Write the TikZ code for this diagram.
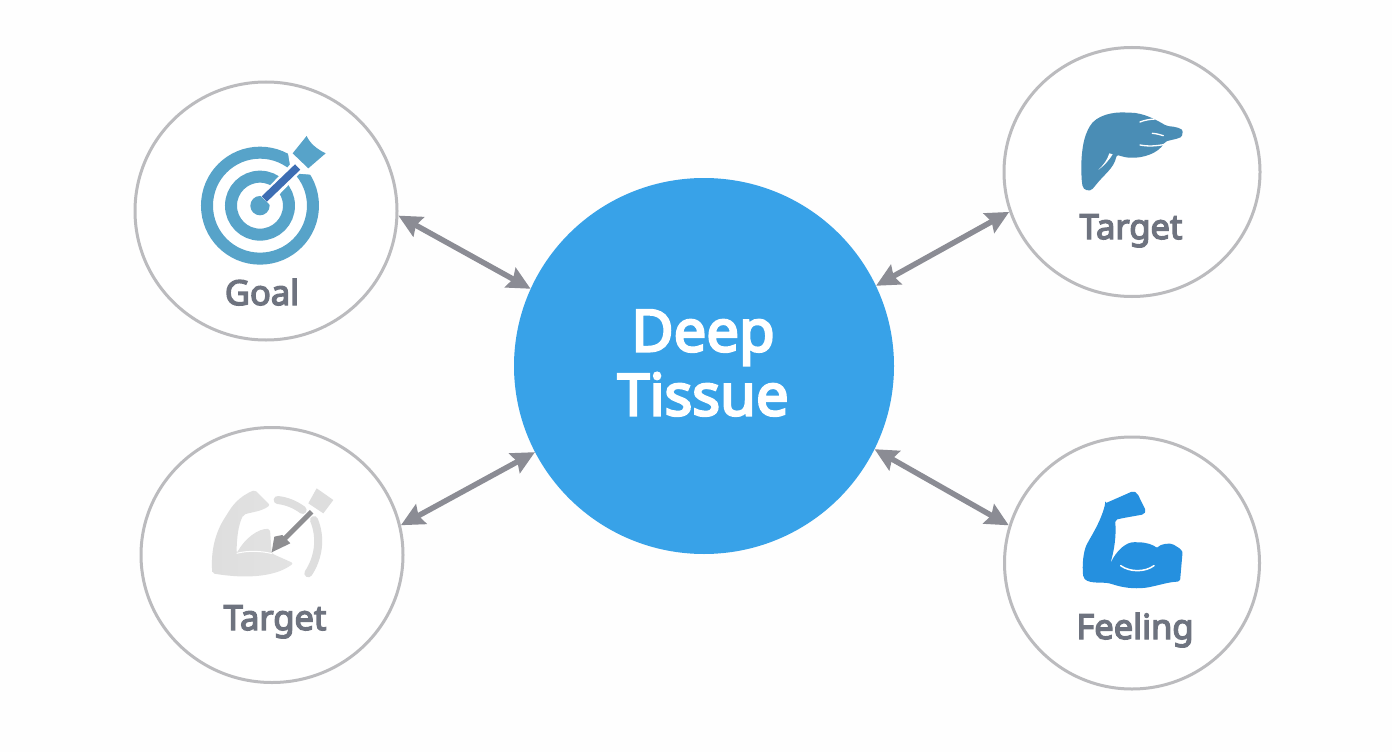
\documentclass[tikz,border=0pt]{standalone}
\usepackage{fontspec}
\setmainfont{Noto Sans}
\newfontfamily\medfont[FakeBold=4]{Noto Sans}
\usetikzlibrary{arrows.meta,shapes.geometric}
\definecolor{bgc}{HTML}{FEFEFE}
\definecolor{ringc}{HTML}{BBBBBE}
\definecolor{hubc}{HTML}{38A2E8}
\definecolor{arrc}{HTML}{8B8C94}
\definecolor{txtc}{HTML}{6E737F}
\definecolor{goalc}{HTML}{57A3C9}
\definecolor{shaftc}{HTML}{3D6DB3}
\definecolor{handc}{HTML}{4A8DB5}
\definecolor{armc}{HTML}{2590DF}
\definecolor{lgray}{HTML}{DEDEDE}
\definecolor{mgray}{HTML}{8E8E91}
\tikzset{
  satellite/.style={ellipse,draw=ringc,line width=3pt,fill=white,inner sep=0pt},
  hub/.style={ellipse,fill=hubc,inner sep=0pt,minimum width=380pt,minimum height=376pt},
  link/.style={draw=arrc,line width=5.5pt,{Stealth[length=23pt,width=22pt,inset=3pt]}-{Stealth[length=23pt,width=22pt,inset=3pt]}},
  satlabel/.style={font=\medfont\fontsize{34.5}{35}\selectfont,text=txtc,anchor=base,inner sep=0pt},
  hublabel/.style={font=\medfont\fontsize{58}{64}\selectfont,text=white,align=center,inner sep=0pt},
  icon/.style={x=0.3333pt,y=-0.3333pt}
}
\begin{document}
\begin{tikzpicture}[x=1pt,y=-1pt]
\useasboundingbox (0,0) rectangle (1392,752);
\fill[bgc] (0,0) rectangle (1392,752);
% nodes
\node[hub] (hub) at (704,366) {};
\node[satellite,minimum width=262pt,minimum height=258pt] (goal) at (266,211) {};
\node[satellite,minimum width=256pt,minimum height=249pt] (targetA) at (1132,172) {};
\node[satellite,minimum width=262pt,minimum height=255pt] (targetB) at (272,555) {};
\node[satellite,minimum width=255pt,minimum height=252pt] (feeling) at (1132,563) {};
\node[hublabel] (hubtext) at (703,363) {Deep\\Tissue};
\node[satlabel] (goaltext) at (262,305) {Goal};
\node[satlabel] (targetAtext) at (1131,239) {Target};
\node[satlabel] (targetBtext) at (275,630) {Target};
\node[satlabel] (feelingtext) at (1135,639) {Feeling};
% connectors
\draw[link] (goal.-2) -- (hub.156);
\draw[link] (targetA.198) -- (hub.25);
\draw[link] (targetB.13) -- (hub.207);
\draw[link] (feeling.163) -- (hub.-26);
% Goal icon
\begin{scope}[shift={(130,75)},icon]
  \draw[goalc,line width=12pt] (390,392) circle[radius=159];
  \draw[goalc,line width=12pt] (390,392) circle[radius=87];
  \fill[goalc] (390,392) circle[radius=29];
  \draw[white,line width=13pt] (405,375) -- (540,235);
  \fill[white] (472,222) -- (480,270) -- (508,296) -- (552,300) -- (590,240) -- (530,170) -- cycle;
  \draw[shaftc,line width=7.5pt] (403,372) -- (503,276);
  \fill[goalc] (530,183) .. controls (540,205) and (560,222) .. (587,235)
    -- (535,280) -- (488,235) -- cycle;
\end{scope}
% Hand icon
\begin{scope}[shift={(1000,45)},icon]
  \fill[handc,rounded corners=2pt] (246,415) .. controls (241,350) and (246,290) .. (266,250)
    .. controls (288,210) and (340,200) .. (385,203)
    .. controls (430,203) and (470,225) .. (500,243)
    .. controls (525,245) and (550,250) .. (547,266)
    .. controls (545,280) and (520,283) .. (495,290)
    .. controls (475,325) and (430,340) .. (385,338)
    .. controls (370,336) and (360,332) .. (350,330)
    .. controls (342,370) and (312,388) .. (282,427)
    .. controls (270,440) and (250,438) .. (246,415) -- cycle;
  \fill[white] (328,325) .. controls (322,345) and (310,360) .. (295,375) .. controls (312,362) and (328,345) .. (338,328) -- cycle;
  \draw[white,line width=1.3pt,line cap=round] (420,231) .. controls (435,225) and (450,223) .. (465,222);
  \draw[white,line width=1.3pt,line cap=round] (457,265) .. controls (470,266) and (480,269) .. (490,272);
  \draw[white,line width=1.3pt,line cap=round] (420,300) .. controls (445,305) and (470,303) .. (495,298);
\end{scope}
% Muscle with gauge icon
\begin{scope}[shift={(135,425)},icon]
  \shade[left color=black!13,middle color=black!3,right color=black!11,rounded corners=2pt]
    (232,445) .. controls (228,390) and (235,330) .. (275,270)
    .. controls (290,245) and (310,215) .. (360,195)
    -- (405,240) .. controls (380,260) and (345,262) .. (325,270)
    .. controls (310,300) and (305,340) .. (305,385)
    .. controls (330,340) and (370,310) .. (405,312)
    -- (410,385) .. controls (430,395) and (455,405) .. (475,415)
    .. controls (430,450) and (350,465) .. (232,445) -- cycle;
  \draw[white,line width=1pt] (305,385) .. controls (340,376) and (380,378) .. (412,386);
  \draw[lgray,line width=8pt,line cap=round] (428,225) .. controls (455,228) and (480,238) .. (503,255);
  \draw[lgray,line width=8pt,line cap=round] (537,285) .. controls (560,340) and (550,400) .. (520,445);
  \fill[lgray] (545,190) -- (595,225) -- (565,265) -- (520,235) -- cycle;
  \draw[mgray,line width=5pt] (530,260) -- (445,345);
  \fill[mgray] (410,382) -- (418,335) -- (442,330) -- (466,355) -- cycle;
\end{scope}
% Flexed arm icon
\begin{scope}[shift={(1000,435)},icon]
  \fill[armc,rounded corners=2pt] (316,205) -- (400,168) -- (412,175) -- (438,228) -- (432,238) -- (365,250) -- (345,255)
    .. controls (350,300) and (342,350) .. (330,388)
    .. controls (350,345) and (380,320) .. (410,322)
    .. controls (440,322) and (460,330) .. (472,340)
    .. controls (480,328) and (510,322) .. (525,332)
    .. controls (540,340) and (548,348) .. (547,360)
    -- (540,440) .. controls (510,440) and (480,450) .. (440,458)
    .. controls (400,462) and (370,458) .. (335,447)
    .. controls (310,440) and (270,448) .. (250,428)
    .. controls (246,390) and (250,350) .. (262,325)
    .. controls (285,285) and (305,250) .. (316,205) -- cycle;
  \draw[white,line width=1.5pt,line cap=round] (362,392) .. controls (390,412) and (435,412) .. (462,392);
\end{scope}
\end{tikzpicture}
\end{document}
